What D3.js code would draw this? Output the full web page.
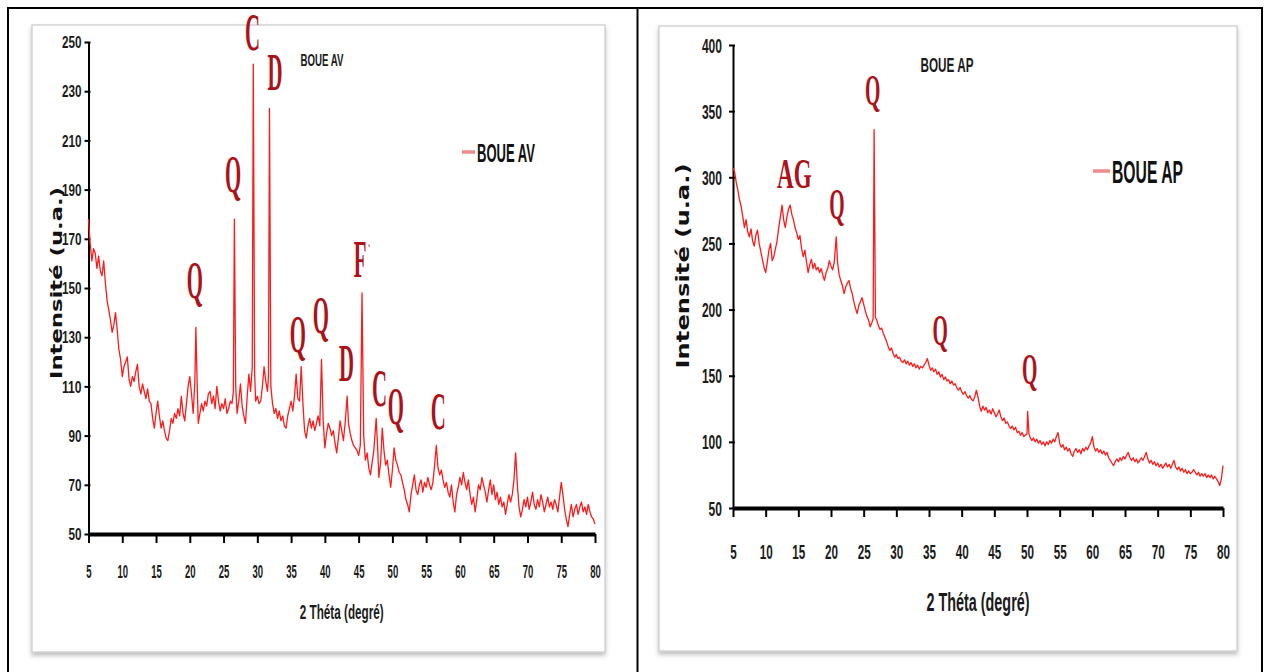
<!DOCTYPE html>
<html>
<head>
<meta charset="utf-8">
<script src="https://cdn.jsdelivr.net/npm/d3@7"></script>
<style>
  html, body { margin: 0; padding: 0; background: #fff; }
  svg { display: block; }
</style>
</head>
<body>
<svg id="fig" width="1266" height="672"></svg>
<script>
// XRD scans: [2θ (degrees), intensity (a.u.)]
const scanAV = [
  [5,178],[5.25,168],[5.5,161],[5.75,166],[6,164],[6.25,158],[6.5,163],[6.75,157],[7,155],[7.25,161],
  [7.5,152],[7.75,145],[8,141],[8.25,137],[8.5,132],[8.75,135],[9,140],[9.25,133],[9.5,125],[9.75,121],
  [10,114],[10.25,118],[10.5,120],[10.75,122],[11,113],[11.25,110],[11.5,114],[11.75,112],[12,116],[12.25,119],
  [12.5,110],[12.75,107],[13,111],[13.25,108],[13.5,105],[13.75,109],[14,104],[14.25,103],[14.5,97],[14.75,93],
  [15,99],[15.25,104],[15.5,98],[15.75,93],[16,96],[16.25,92],[16.5,89],[16.75,88],[17,92],[17.25,97],
  [17.5,95],[17.75,99],[18,97],[18.25,101],[18.5,98],[18.75,106],[19,99],[19.25,96],[19.5,103],[19.75,110],
  [20,114],[20.25,107],[20.5,99],[20.75,112],[20.9,134],[21.1,110],[21.25,95],[21.5,99],[21.75,103],[22,100],
  [22.25,104],[22.5,102],[22.75,107],[23,108],[23.25,103],[23.5,106],[23.75,101],[24,110],[24.25,104],[24.5,100],
  [24.75,103],[25,101],[25.25,105],[25.5,99],[25.75,101],[26,104],[26.25,103],[26.45,108],[26.6,178],[26.8,110],
  [27,99],[27.25,104],[27.5,111],[27.75,102],[28,98],[28.25,95],[28.5,106],[28.75,115],[29,108],[29.25,118],
  [29.4,241],[29.6,115],[29.75,104],[30,106],[30.25,103],[30.5,104],[30.75,110],[31,118],[31.25,112],[31.5,108],
  [31.65,114],[31.8,223],[32,110],[32.25,103],[32.5,99],[32.75,101],[33,97],[33.25,100],[33.5,96],[33.75,98],
  [34,94],[34.25,93],[34.5,98],[34.75,101],[35,104],[35.25,100],[35.5,106],[35.75,115],[36,105],[36.25,104],
  [36.5,118],[36.75,103],[37,92],[37.25,89],[37.5,94],[37.75,97],[38,93],[38.25,96],[38.5,92],[38.75,95],
  [39,98],[39.25,94],[39.5,121],[39.75,96],[40,85],[40.25,91],[40.5,95],[40.75,93],[41,90],[41.25,92],
  [41.5,87],[41.75,83],[42,89],[42.25,96],[42.5,92],[42.75,88],[43,95],[43.3,106],[43.5,95],[43.75,91],
  [44,88],[44.25,86],[44.5,85],[44.75,84],[45,82],[45.25,86],[45.5,148],[45.75,90],[46,80],[46.25,83],
  [46.5,77],[46.75,74],[47,79],[47.25,84],[47.6,97],[47.8,86],[48,73],[48.25,79],[48.5,93],[48.75,84],
  [49,78],[49.25,80],[49.5,74],[49.75,69],[50,76],[50.25,85],[50.5,80],[50.75,78],[51,75],[51.25,74],
  [51.5,71],[51.75,68],[52,64],[52.25,62],[52.5,59],[52.75,66],[53,70],[53.25,74],[53.5,68],[53.75,66],
  [54,70],[54.25,72],[54.5,67],[54.75,71],[55,69],[55.25,73],[55.5,70],[55.75,68],[56,71],[56.25,78],
  [56.5,86],[56.75,77],[57,74],[57.25,76],[57.5,72],[57.75,69],[58,71],[58.25,67],[58.5,65],[58.75,70],
  [59,63],[59.25,59],[59.5,66],[59.75,69],[60,73],[60.25,70],[60.5,75],[60.75,71],[61,68],[61.25,72],
  [61.5,66],[61.75,62],[62,65],[62.25,59],[62.5,64],[62.75,70],[63,68],[63.25,73],[63.5,70],[63.75,67],
  [64,63],[64.25,68],[64.5,72],[64.75,66],[65,70],[65.25,64],[65.5,67],[65.75,62],[66,65],[66.25,61],
  [66.5,63],[66.75,58],[67,62],[67.25,66],[67.5,63],[67.75,66],[68,72],[68.25,83],[68.5,70],[68.75,61],
  [69,57],[69.25,60],[69.5,64],[69.75,61],[70,65],[70.25,60],[70.5,63],[70.75,67],[71,62],[71.25,60],
  [71.5,64],[71.75,61],[72,66],[72.25,63],[72.5,59],[72.75,62],[73,65],[73.25,61],[73.5,63],[73.75,60],
  [74,64],[74.25,62],[74.5,59],[74.75,65],[75,71],[75.25,66],[75.5,60],[75.75,56],[76,53],[76.25,58],
  [76.5,62],[76.75,57],[77,60],[77.25,62],[77.5,58],[77.75,61],[78,63],[78.25,59],[78.5,61],[78.75,58],
  [79,62],[79.25,59],[79.5,57],[79.75,56],[80,54]
];

const scanAP = [
  [5,307],[5.25,304],[5.5,296],[5.75,290],[6,283],[6.25,278],[6.5,270],[6.75,262],[7,268],[7.25,259],
  [7.5,255],[7.75,261],[8,252],[8.25,248],[8.5,256],[8.75,260],[9,250],[9.25,244],[9.5,238],[9.75,232],
  [10,228],[10.25,236],[10.5,245],[10.75,250],[11,237],[11.25,240],[11.5,246],[11.75,252],[12,262],[12.25,270],
  [12.5,279],[12.75,268],[13,262],[13.25,270],[13.5,276],[13.75,279],[14,272],[14.25,268],[14.5,262],[14.75,258],
  [15,253],[15.25,256],[15.5,246],[15.75,240],[16,245],[16.25,236],[16.5,228],[16.75,234],[17,238],[17.25,231],
  [17.5,235],[17.75,230],[18,232],[18.25,228],[18.5,231],[18.75,226],[19,222],[19.25,228],[19.5,231],[19.75,237],
  [20,233],[20.25,230],[20.5,236],[20.8,255],[21,236],[21.25,226],[21.5,222],[21.75,218],[22,212],[22.25,217],
  [22.5,220],[22.75,222],[23,216],[23.25,212],[23.5,206],[23.75,201],[24,197],[24.25,203],[24.5,206],[24.75,209],
  [25,204],[25.25,199],[25.5,195],[25.75,192],[26,187],[26.25,190],[26.45,193],[26.6,336],[26.8,194],[27,192],
  [27.25,188],[27.5,185],[27.75,186],[28,182],[28.25,179],[28.5,176],[28.75,172],[29,169],[29.25,171],[29.5,167],
  [29.75,164],[30,166],[30.25,163],[30.5,164],[30.75,161],[31,160],[31.25,162],[31.5,159],[31.75,161],[32,158],
  [32.25,160],[32.5,157],[32.75,159],[33,156],[33.25,158],[33.5,155],[33.75,157],[34,156],[34.25,158],[34.5,160],
  [34.75,163],[35,158],[35.25,154],[35.5,156],[35.75,153],[36,155],[36.25,151],[36.5,153],[36.75,149],[37,151],
  [37.25,147],[37.5,149],[37.75,146],[38,147],[38.25,144],[38.5,146],[38.75,143],[39,144],[39.25,141],[39.5,139],
  [39.75,141],[40,138],[40.25,136],[40.5,138],[40.75,135],[41,133],[41.25,135],[41.5,132],[41.75,131],[42,134],
  [42.25,139],[42.5,134],[42.75,127],[43,123],[43.25,127],[43.5,124],[43.75,126],[44,122],[44.25,124],[44.5,121],
  [44.75,125],[45,122],[45.25,119],[45.5,121],[45.75,124],[46,119],[46.25,116],[46.5,118],[46.75,114],[47,115],
  [47.25,112],[47.5,110],[47.75,112],[48,109],[48.25,111],[48.5,107],[48.75,108],[49,105],[49.25,107],[49.5,104],
  [49.75,105],[50,106],[50.1,123],[50.3,106],[50.5,103],[50.75,101],[51,103],[51.25,100],[51.5,102],[51.75,99],
  [52,101],[52.25,98],[52.5,100],[52.75,97],[53,100],[53.25,98],[53.5,101],[53.75,99],[54,102],[54.25,100],
  [54.5,104],[54.75,107],[55,99],[55.25,96],[55.5,98],[55.75,94],[56,96],[56.25,93],[56.5,95],[56.75,91],
  [57,89],[57.25,93],[57.5,95],[57.75,92],[58,94],[58.25,91],[58.5,95],[58.75,93],[59,96],[59.25,94],
  [59.5,97],[59.75,99],[60,104],[60.25,96],[60.5,93],[60.75,95],[61,92],[61.25,94],[61.5,91],[61.75,93],
  [62,90],[62.25,92],[62.5,88],[62.75,86],[63,84],[63.25,82],[63.5,85],[63.75,87],[64,85],[64.25,88],
  [64.5,86],[64.75,89],[65,87],[65.25,90],[65.5,92],[65.75,88],[66,86],[66.25,88],[66.5,85],[66.75,87],
  [67,84],[67.25,86],[67.5,88],[67.75,86],[68,89],[68.25,92],[68.5,87],[68.75,84],[69,86],[69.25,83],
  [69.5,85],[69.75,82],[70,84],[70.25,81],[70.5,83],[70.75,80],[71,82],[71.25,84],[71.5,81],[71.75,83],
  [72,80],[72.25,83],[72.5,86],[72.75,81],[73,79],[73.25,81],[73.5,78],[73.75,80],[74,77],[74.25,79],
  [74.5,76],[74.75,78],[75,76],[75.25,77],[75.5,79],[75.75,77],[76,75],[76.25,77],[76.5,74],[76.75,76],
  [77,74],[77.25,76],[77.5,73],[77.75,75],[78,73],[78.25,75],[78.5,72],[78.75,74],[79,72],[79.25,70],
  [79.5,67],[79.75,72],[80,82]
];

// Axis ticks
const thetaTicks = [5, 10, 15, 20, 25, 30, 35, 40, 45, 50, 55, 60, 65, 70, 75, 80];
const intensityTicksAV = [50, 70, 90, 110, 130, 150, 170, 190, 210, 230, 250];
const intensityTicksAP = [50, 100, 150, 200, 250, 300, 350, 400];

// Phase markers: letter, 2θ, intensity level of the letter baseline
const phaseNamesAV = ["C", "D", "Q", "Q", "Q", "Q", "D", "F", "C", "Q", "C"];
const phaseThetaAV = [29.3, 32.6, 26.4, 20.75, 36.0, 39.4, 43.2, 45.5, 48.1, 50.5, 56.8];
const phaseLevelAV = [246.7, 230.5, 189, 146, 124, 131.7, 112.2, 154.5, 102, 94.7, 92.7];

const phaseNamesAP = ["AG", "Q", "Q", "Q", "Q"];
const phaseThetaAP = [14.4, 20.9, 26.4, 36.7, 50.4];
const phaseLevelAP = [291.9, 268.5, 354.6, 173.2, 143.7];

const sampleAV = "BOUE AV";
const sampleAP = "BOUE AP";
const xTitle = "2 Théta (degré)";
const yTitle = "Intensité (u.a.)";

const svg = d3.select("#fig");
const defs = svg.append("defs");
const shadow = defs.append("filter").attr("id", "frameShadow")
  .attr("x", "-5%").attr("y", "-5%").attr("width", "110%").attr("height", "112%");
shadow.append("feDropShadow").attr("dx", 0).attr("dy", 3).attr("stdDeviation", 2)
  .attr("flood-color", "#8a8a8a").attr("flood-opacity", 0.55);

// Outer table borders
const border = svg.append("g").attr("stroke", "#000").attr("stroke-width", 2);
border.append("line").attr("x1", 8).attr("x2", 1262).attr("y1", 8).attr("y2", 8);
[8, 637.5, 1262].forEach(xp =>
  border.append("line").attr("x1", xp).attr("x2", xp).attr("y1", 7).attr("y2", 672));

const SANS = "'Liberation Sans Narrow','Liberation Sans',Arial,sans-serif";
const SERIF = "'Liberation Serif','Times New Roman',serif";

function drawPanel(p) {
  const g = svg.append("g");

  g.append("rect")
    .attr("x", p.frame[0]).attr("y", p.frame[1])
    .attr("width", p.frame[2]).attr("height", p.frame[3])
    .attr("fill", "#fff").attr("stroke", "#d4d4d4").attr("stroke-width", 1.5)
    .attr("filter", "url(#frameShadow)");

  const x = d3.scaleLinear().domain([5, 80]).range([p.left, p.right]);
  const y = d3.scaleLinear().domain([p.yTicks[0], p.yTicks[p.yTicks.length - 1]])
    .range([p.bottom, p.top]);

  // y axis
  const ya = g.append("g").attr("transform", `translate(${p.left},0)`)
    .call(d3.axisLeft(y).tickValues(p.yTicks).tickSize(4).tickSizeOuter(0));
  ya.select(".domain").attr("stroke", "#000").attr("stroke-width", 2);
  ya.selectAll(".tick line").attr("stroke", "#000").attr("stroke-width", 2).attr("x2", -4).attr("x1", 2);
  ya.selectAll(".tick text")
    .attr("x", -p.yLabelGap).attr("dy", "0.35em")
    .style("font-family", SANS).style("font-weight", "bold")
    .style("font-size", p.yTickFont + "px").attr("fill", "#1a1a1a")
    .attr("textLength", d => String(d).length * p.yDigit).attr("lengthAdjust", "spacingAndGlyphs");

  // x axis
  const xa = g.append("g").attr("transform", `translate(0,${p.bottom})`)
    .call(d3.axisBottom(x).tickValues(thetaTicks).tickSize(9).tickSizeOuter(0));
  xa.select(".domain").attr("stroke", "#000").attr("stroke-width", 4);
  xa.selectAll(".tick line").attr("stroke", "#000").attr("stroke-width", 2);
  xa.selectAll(".tick text")
    .attr("y", p.xLabelDy).attr("dy", "0.35em")
    .style("font-family", SANS).style("font-weight", "bold")
    .style("font-size", p.xTickFont + "px").attr("fill", "#1a1a1a")
    .attr("textLength", d => String(d).length * p.xDigit).attr("lengthAdjust", "spacingAndGlyphs");

  // scan trace
  const line = d3.line().x(d => x(d[0])).y(d => y(d[1]));
  g.append("path").datum(p.scan)
    .attr("d", line).attr("fill", "none")
    .attr("stroke", "#ff1a1a").attr("stroke-width", 1.3).attr("stroke-linejoin", "round");

  // axis titles
  g.append("text")
    .attr("x", (p.left + p.right) / 2 + p.xTitleShift).attr("y", p.bottom + p.xTitleDy)
    .attr("text-anchor", "middle").attr("dominant-baseline", "central")
    .style("font-family", SANS).style("font-weight", "bold")
    .style("font-size", p.xTitleFont + "px").attr("fill", "#1a1a1a")
    .attr("textLength", p.xTitleLen).attr("lengthAdjust", "spacingAndGlyphs")
    .text(xTitle);

  g.append("text")
    .attr("transform", `translate(${p.yTitleX},${p.yTitleY}) rotate(-90)`)
    .attr("text-anchor", "middle").attr("dominant-baseline", "central")
    .style("font-family", "'DejaVu Sans',Verdana,sans-serif").style("font-weight", "bold")
    .style("font-size", p.yTitleFont + "px").attr("fill", "#111")
    .attr("textLength", p.yTitleLen).attr("lengthAdjust", "spacingAndGlyphs")
    .text(yTitle);

  // chart title
  g.append("text")
    .attr("x", p.titlePos[0]).attr("y", p.titlePos[1])
    .attr("text-anchor", "middle").attr("dominant-baseline", "central")
    .style("font-family", SANS).style("font-weight", "bold")
    .style("font-size", p.titleFont + "px").attr("fill", "#1a1a1a")
    .attr("textLength", p.titleLen).attr("lengthAdjust", "spacingAndGlyphs")
    .text(p.name);

  // legend
  g.append("line")
    .attr("x1", p.legend[0]).attr("x2", p.legend[0] + p.legendKey)
    .attr("y1", p.legend[1]).attr("y2", p.legend[1])
    .attr("stroke", "#f08a8a").attr("stroke-width", 3.5);
  g.append("text")
    .attr("x", p.legend[0] + p.legendKey + 2).attr("y", p.legend[1] + 1)
    .attr("dominant-baseline", "central")
    .style("font-family", SANS).style("font-weight", "bold")
    .style("font-size", p.legendFont + "px").attr("fill", "#111")
    .attr("textLength", p.legendLen).attr("lengthAdjust", "spacingAndGlyphs")
    .text(p.name);

  // phase markers
  p.phaseNames.forEach((name, i) => {
    const big = name.length > 1;
    const t = g.append("text")
      .attr("transform", `translate(${x(p.phaseTheta[i])},${y(p.phaseLevel[i])}) scale(${big ? p.multiSqueeze : p.phaseSqueeze},1)`)
      .attr("text-anchor", "middle")
      .style("font-family", SERIF).style("font-weight", "bold")
      .style("font-size", (big ? p.multiFont : p.phaseFont) + "px")
      .attr("fill", "#ad1219")
      .text(name);
    if (name === "F") {
      // small mark beside the F
      t.append("tspan").attr("dx", 4).attr("dy", -26)
        .style("font-size", "16px").attr("fill", "#8a3a3a").text("·");
    }
  });
}

drawPanel({
  scan: scanAV, name: sampleAV, yTicks: intensityTicksAV,
  frame: [32, 25, 573, 627],
  left: 88.5, right: 595, top: 42, bottom: 534,
  yLabelGap: 7, yTickFont: 16, yDigit: 6.5,
  xLabelDy: 38, xTickFont: 18, xDigit: 5.3,
  xTitleShift: 0, xTitleDy: 77, xTitleFont: 21, xTitleLen: 84,
  yTitleX: 56, yTitleY: 283, yTitleFont: 16, yTitleLen: 192,
  titlePos: [322, 60], titleFont: 16, titleLen: 43,
  legend: [462, 152], legendKey: 13, legendFont: 25, legendLen: 58,
  phaseNames: phaseNamesAV, phaseTheta: phaseThetaAV, phaseLevel: phaseLevelAV,
  phaseFont: 52, phaseSqueeze: 0.4, multiFont: 36, multiSqueeze: 0.6
});

drawPanel({
  scan: scanAP, name: sampleAP, yTicks: intensityTicksAP,
  frame: [659, 26, 578, 625],
  left: 733, right: 1223, top: 45, bottom: 508,
  yLabelGap: 11, yTickFont: 20, yDigit: 6.7,
  xLabelDy: 44, xTickFont: 20, xDigit: 6.5,
  xTitleShift: 0, xTitleDy: 94, xTitleFont: 25, xTitleLen: 103,
  yTitleX: 682, yTitleY: 266, yTitleFont: 18, yTitleLen: 205,
  titlePos: [947, 65], titleFont: 20, titleLen: 53,
  legend: [1093, 171], legendKey: 17, legendFont: 31, legendLen: 71,
  phaseNames: phaseNamesAP, phaseTheta: phaseThetaAP, phaseLevel: phaseLevelAP,
  phaseFont: 45, phaseSqueeze: 0.44, multiFont: 42, multiSqueeze: 0.55
});
</script>
</body>
</html>
